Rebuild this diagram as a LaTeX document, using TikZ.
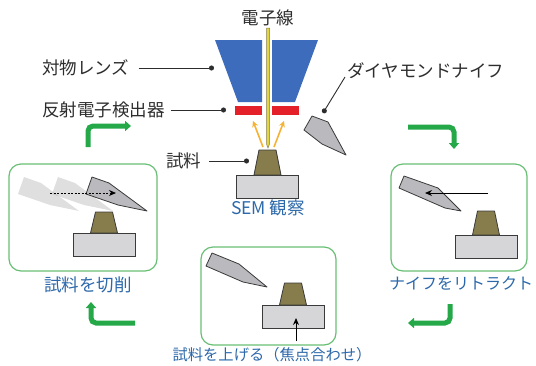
\documentclass[tikz,border=0pt]{standalone}
\usepackage{fontspec}
\usepackage{tkz-euclide}
\usetikzlibrary{arrows.meta}
\setmainfont{Noto Sans CJK JP}

\definecolor{lensblue}{RGB}{62,108,188}
\definecolor{detred}{RGB}{228,32,40}
\definecolor{beamyellow}{RGB}{226,214,60}
\definecolor{glow}{RGB}{246,178,52}
\definecolor{olivegray}{RGB}{134,124,76}
\definecolor{holdergray}{RGB}{214,214,216}
\definecolor{knifegray}{RGB}{186,186,190}
\definecolor{edge}{RGB}{58,58,58}
\definecolor{labelgray}{RGB}{45,45,45}
\definecolor{capblue}{RGB}{44,104,170}
\definecolor{boxgreen}{RGB}{104,190,116}
\definecolor{turngreen}{RGB}{36,168,72}

\tikzset{
  lbl/.style={font=\fontsize{17.5}{17.5}\selectfont, text=labelgray, inner sep=0pt},
  caption/.style={font=\fontsize{17.5}{17.5}\selectfont, text=capblue, inner sep=0pt},
  leader/.style={line width=0.9pt, draw=labelgray, -{Circle[length=5pt]}},
  cyclebox/.style={draw=boxgreen, line width=1.2pt, rounded corners=12pt},
  turn/.style={draw=turngreen, line width=5pt, rounded corners=5pt,
    -{Triangle[width=10pt,length=6pt]}},
  knife/.style={fill=knifegray, draw=edge, line width=0.8pt, line join=round},
  ghost/.style={fill=gray, draw=none, opacity=0.25},
  specimen/.style={fill=olivegray, draw=edge, line width=0.8pt, line join=round},
  holder/.style={fill=holdergray, draw=edge, line width=0.8pt},
}

% holder block with the specimen on top; #1,#2 = top centre of the block, #3 = specimen height
\newcommand\stage[3]{%
  \draw[holder] (#1-31,#2) rectangle (#1+31,#2+23);
  \draw[specimen] (#1-13.5,#2) -- (#1-8.5,#2-#3) -- (#1+8.5,#2-#3) -- (#1+13.5,#2) -- cycle;
}

\begin{document}
\begin{tikzpicture}[x=1pt, y=-1pt]
    \useasboundingbox (0,0) rectangle (536,365);

    % --- SEM column ---
    \tkzDefPoints{215/40/La, 262/40/Lb, 262/102/Lc, 238/102/Ld,
                  272/40/Ra, 318/40/Rb, 295/102/Rc, 272/102/Rd}
    \tkzDrawPolygon[fill=lensblue, draw=none](La,Lb,Lc,Ld)
    \tkzDrawPolygon[fill=lensblue, draw=none](Ra,Rb,Rc,Rd)
    \fill[detred] (235,106) rectangle (262,115);
    \fill[detred] (272,106) rectangle (299,115);
    \draw[fill=beamyellow, draw=olivegray, line width=0.5pt]
        (266.5,28) -- (269.5,28) -- (269.5,144) -- (268,148) -- (266.5,144) -- cycle;
    \draw[glow, line width=1.6pt, -{Stealth[length=6pt,width=6pt]}] (263,147) -- (253,121);
    \draw[glow, line width=1.6pt, -{Stealth[length=6pt,width=6pt]}] (274,147) -- (284,121);
    \stage{267.5}{175}{25}
    \tkzDefPoints{304/130/Ka, 312/116/Kb, 328/122/Kc, 346/155/Kd, 322/144/Ke}
    \tkzDrawPolygon[knife](Ka,Kb,Kc,Kd,Ke)

    % --- labels with leader lines ---
    \node[lbl] (beam) at (268,18) {電子線};
    \node[lbl, anchor=west] (lens) at (42,68) {対物レンズ};
    \node[lbl, anchor=west] (bse) at (42,110) {反射電子検出器};
    \node[lbl, anchor=west] (spec) at (166,161) {試料};
    \node[lbl, anchor=west] (dk) at (347,71) {ダイヤモンドナイフ};
    \coordinate (lensdot) at (214,68);
    \coordinate (bsedot) at (226,110);
    \coordinate (specdot) at (249,161);
    \coordinate (dkfoot) at (345,77);
    \coordinate (dkdot) at (323,113);
    \draw[leader] ([xshift=9pt]lens.east) -- (lensdot);
    \draw[leader] ([xshift=6pt]bse.east) -- (bsedot);
    \draw[leader] ([xshift=8pt]spec.east) -- (specdot);
    \draw[leader] (dkfoot) -- (dkdot);
    \node[caption] (sem) at (268,208) {SEM 観察};

    % --- cutting ---
    \draw[cyclebox] (9,164) rectangle (157,271);
    \stage{104}{233}{21}
    \tkzDefPoints{86/194/Ca, 92/177/Cb, 109/183/Cc, 147/211/Cd, 118/205/Ce}
    % faded copies of the knife for the stroke
    \foreach \dx in {-68,-34}
      \fill[ghost] ([xshift=\dx pt]Ca) -- ([xshift=\dx pt]Cb) -- ([xshift=\dx pt]Cc)
        -- ([xshift=\dx pt]Cd) -- ([xshift=\dx pt]Ce) -- cycle;
    \tkzDrawPolygon[knife](Ca,Cb,Cc,Cd,Ce)
    \coordinate (cutfrom) at (50,193);
    \coordinate (cutto) at (116,193);
    \draw[dashed, dash pattern=on 2pt off 1.5pt, line width=1pt, -{Stealth[length=7pt,width=6pt]}]
        (cutfrom) -- (cutto);
    \node[caption] (cut) at (88,285) {試料を切削};

    % --- retract ---
    \draw[cyclebox] (391,164) rectangle (527,271);
    \stage{486}{235}{24}
    \tkzDefPoints{399/188/Ra, 404/176/Rb, 438/188/Rc, 461/211/Rd, 445/208/Re}
    \tkzDrawPolygon[knife](Ra,Rb,Rc,Rd,Re)
    \coordinate (backfrom) at (488,193);
    \coordinate (backto) at (425,193);
    \draw[line width=1pt, -{Stealth[length=7pt,width=6pt]}] (backfrom) -- (backto);
    \node[caption, font=\fontsize{16}{16}\selectfont] (retract) at (461,283) {ナイフをリトラクト};

    % --- raise / focus ---
    \draw[cyclebox] (201,247) rectangle (336,345);
    \stage{293}{305}{22}
    \tkzDefPoints{206/266/Ua, 212/253/Ub, 239/264/Uc, 267/287/Ud, 243/282/Ue}
    \tkzDrawPolygon[knife](Ua,Ub,Uc,Ud,Ue)
    \coordinate (upfrom) at (296,341);
    \coordinate (upto) at (296,318);
    \draw[line width=1pt, -{Stealth[length=7pt,width=6pt]}] (upfrom) -- (upto);
    \node[caption, font=\fontsize{15.3}{15.3}\selectfont] (raise) at (272,355) {試料を上げる（焦点合わせ）};

    % --- cycle arrows ---
    \coordinate (t1a) at (88,147); \coordinate (t1b) at (88,126); \coordinate (t1c) at (131,126);
    \coordinate (t2a) at (408,127); \coordinate (t2b) at (454,127); \coordinate (t2c) at (454,149);
    \coordinate (t3a) at (450,304); \coordinate (t3b) at (450,323); \coordinate (t3c) at (408,323);
    \coordinate (t4a) at (135,323); \coordinate (t4b) at (91,323); \coordinate (t4c) at (91,302);
    \draw[turn] (t1a) -- (t1b) -- (t1c);
    \draw[turn] (t2a) -- (t2b) -- (t2c);
    \draw[turn] (t3a) -- (t3b) -- (t3c);
    \draw[turn] (t4a) -- (t4b) -- (t4c);
\end{tikzpicture}
\end{document}
